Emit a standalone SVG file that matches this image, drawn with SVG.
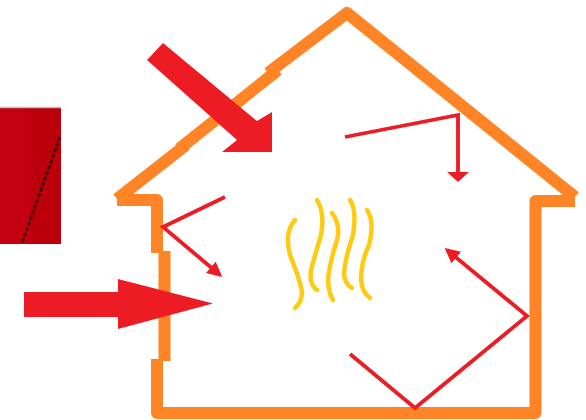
<svg xmlns="http://www.w3.org/2000/svg" width="586" height="420" viewBox="0 0 586 420">
  <style>
    .wall { fill: none; stroke: #FF8426; stroke-width: 12; stroke-linejoin: round; stroke-linecap: butt; }
    .ray { fill: none; stroke: #ED1C24; stroke-width: 3.8; stroke-linejoin: miter; }
    .heat { fill: none; stroke: #FFCB12; stroke-width: 4.5; stroke-linecap: round; }
    .solar { fill: #ED1C24; }
  </style>
  <defs>
    <marker id="head" viewBox="0 0 10 10" refX="8" refY="5" markerUnits="userSpaceOnUse" markerWidth="15" markerHeight="15" orient="auto">
      <path d="M0,0 L10,5 L0,10 Z" fill="#ED1C24"/>
    </marker>
    <marker id="headWide" viewBox="0 0 10 10" refX="8" refY="5" markerUnits="userSpaceOnUse" markerWidth="10" markerHeight="22" orient="auto" preserveAspectRatio="none">
      <path d="M0,0 L10,5 L0,10 Z" fill="#ED1C24"/>
    </marker>
  </defs>

  <!-- cropped red panel on the left -->
  <g id="panel">
    <rect x="0" y="107" width="61" height="137" fill="#C3000F"/>
    <rect x="30" y="107" width="31" height="137" fill="#BB000C"/>
    <line x1="0" y1="107.5" x2="61" y2="107.5" stroke="#C8B8B8" stroke-width="1.5"/>
    <line x1="60" y1="137" x2="22" y2="243" stroke="#4A0000" stroke-width="2.8" stroke-dasharray="4 2"/>
  </g>

  <!-- house outline, drawn in overlapping stretches with small steps -->
  <g id="house">
    <path class="wall" d="M117,199 L186,145"/>
    <path class="wall" d="M179,149 L278,70"/>
    <path class="wall" d="M268,73 L347,13 L575,197"/>
    <path class="wall" d="M575,201 L535.5,201 L535.5,413 L157,413 L157,359"/>
    <path class="wall" d="M164.5,361 L164.5,251"/>
    <path class="wall" d="M157,253 L157,200 L117,200"/>
  </g>

  <!-- rising heat inside -->
  <g id="heat">
    <path class="heat" d="M295,220 Q284,232 290,255 Q300,280 302,292 Q302,302 295,308"/>
    <path class="heat" d="M317,200 Q325,212 321,235 Q315,255 311,270 Q309,285 317,290"/>
    <path class="heat" d="M332,213 Q341,225 337,240 Q330,262 328,278 Q328,292 333,300"/>
    <path class="heat" d="M350,200 Q357,210 353,235 Q346,255 344,272 Q344,284 352,288"/>
    <path class="heat" d="M367,210 Q375,222 369,245 Q361,262 361,280 Q362,292 370,298"/>
  </g>

  <!-- incoming sunlight -->
  <g id="sun-roof">
    <polygon class="solar" points="147,60 163,43 257,121 272,112 272,152 222,152 237,140"/>
  </g>
  <g id="sun-wall">
    <polygon class="solar" points="24,292 118,292 118,279 213,303.5 118,329 118,317 24,317"/>
  </g>

  <!-- reflected rays -->
  <g id="connectors">
    <path class="ray" d="M345,137 L458,115 L458,180" marker-end="url(#headWide)"/>
    <path class="ray" d="M225,197 L163,227 L220,275" marker-end="url(#head)"/>
    <path class="ray" d="M350,354 L415,408 L527,316 L447,250" marker-end="url(#head)"/>
  </g>
</svg>
